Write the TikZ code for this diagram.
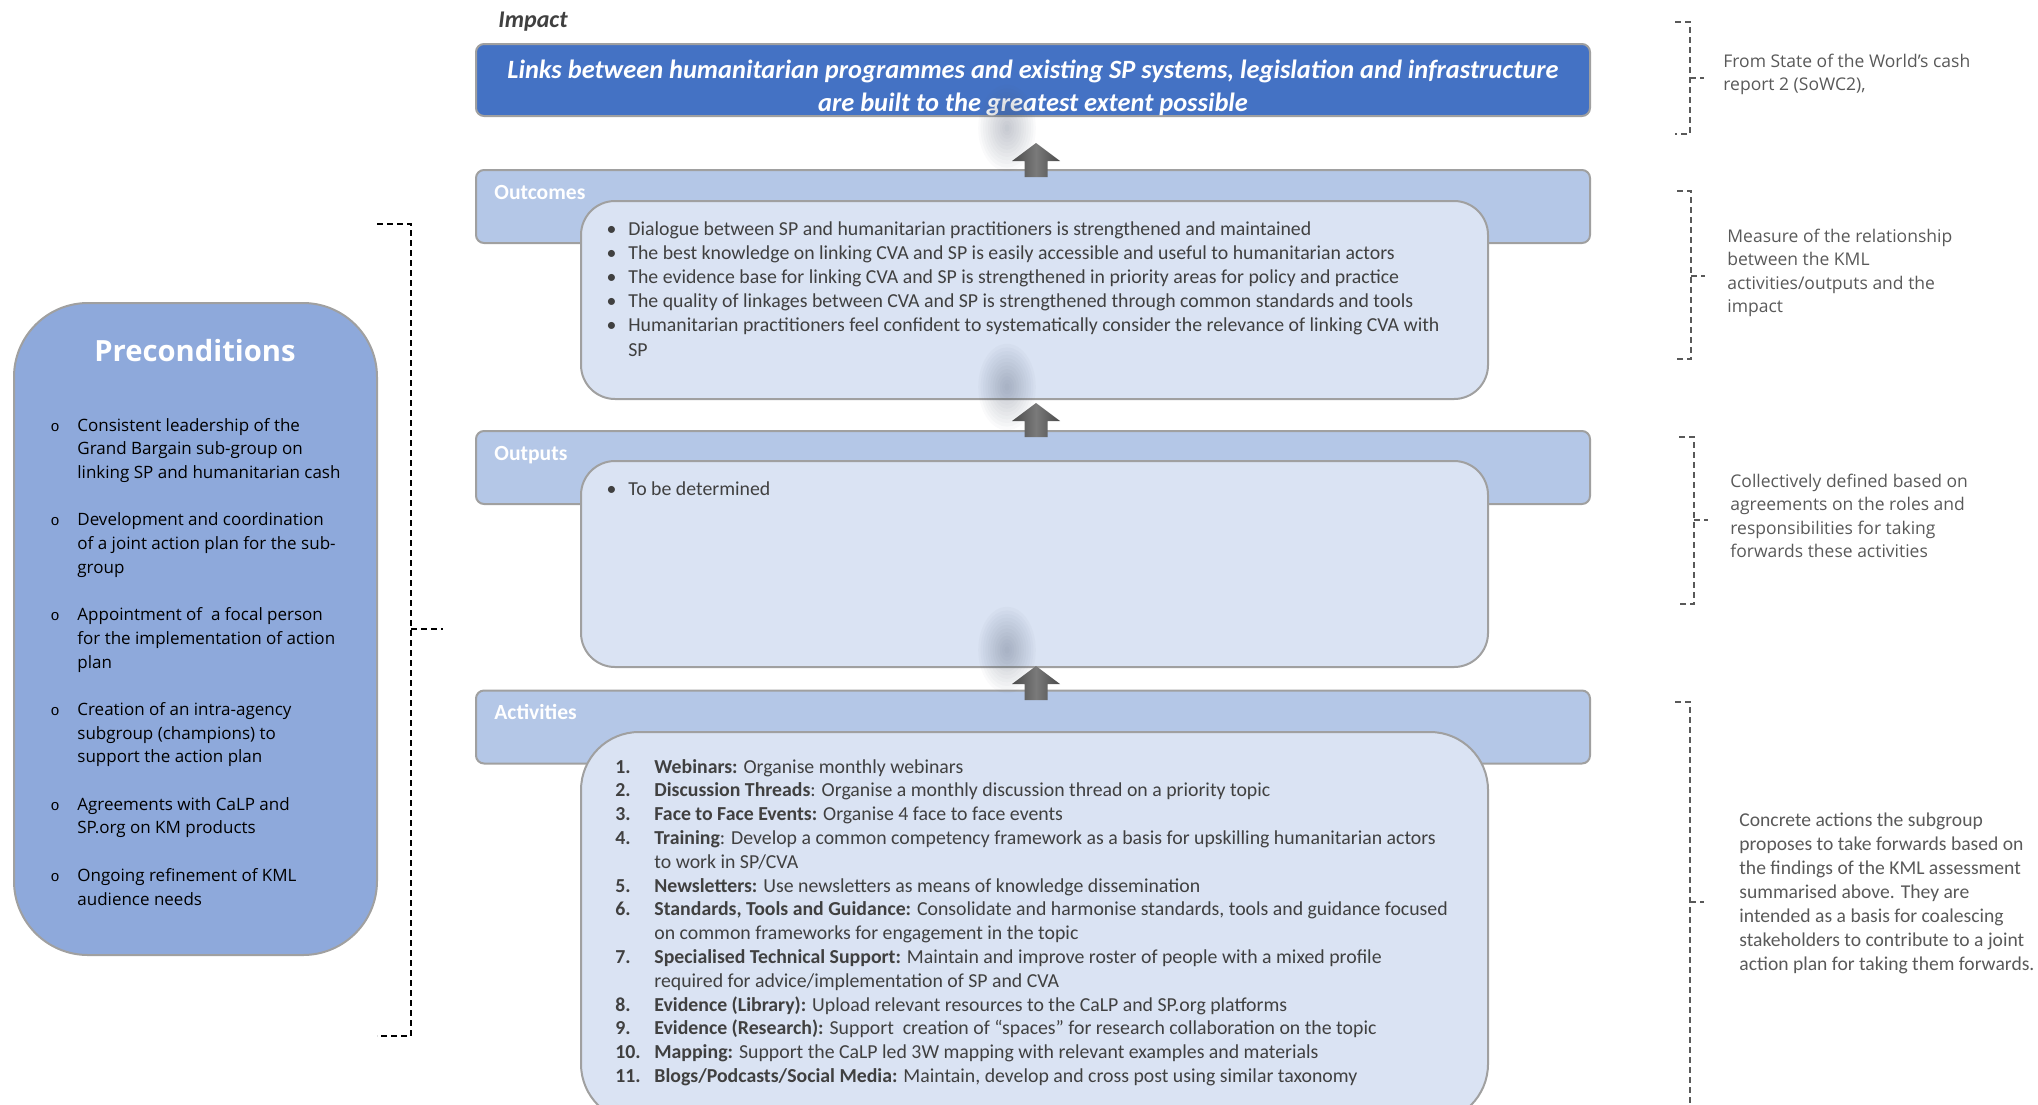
\documentclass[tikz,border=0pt]{standalone}
\usepackage{fontspec}
\setmainfont{Carlito}
\newfontfamily\osans{Open Sans}
\newfontfamily\mono{Liberation Mono}
\definecolor{impactblue}{HTML}{4472C4}
\definecolor{hdrblue}{HTML}{B4C7E7}
\definecolor{innerblue}{HTML}{DAE3F3}
\definecolor{precblue}{HTML}{8EA9DB}
\definecolor{bordergray}{HTML}{A0A0A0}
\definecolor{txt}{HTML}{404040}
\definecolor{anngray}{HTML}{595959}
\definecolor{ardark}{HTML}{4A4A4A}
\definecolor{arlight}{HTML}{7A7A7A}
\definecolor{blobcol}{HTML}{505A70}
\newcommand{\bl}[1]{\makebox[0pt][r]{\textbullet\hspace{6pt}}#1}
\newcommand{\nm}[2]{\makebox[0pt][r]{\makebox[19.5pt][l]{\bfseries #1}}#2}
\newcommand{\ob}{\makebox[0pt][r]{\makebox[13.4pt][l]{\mono\fontsize{7.5}{7.5}\selectfont o}}}
\newcommand{\lns}[1]{\begin{tabular}[t]{@{}l@{}}#1\end{tabular}}
\newcommand{\clns}[1]{\begin{tabular}[t]{@{}c@{}}#1\end{tabular}}
\begin{document}
\begin{tikzpicture}[x=0.5pt,y=-0.5pt,
  hdr/.style={draw=bordergray, line width=1pt, fill=hdrblue, rounded corners=4pt, minimum width=557pt, minimum height=36.5pt, inner sep=0pt},
  innerbox/.style={draw=bordergray, line width=1pt, fill=innerblue, minimum width=453.5pt, inner sep=0pt},
  hlabel/.style={anchor=base west, inner sep=0pt, text=white, font=\fontsize{10.8}{12}\selectfont\bfseries},
  body/.style={anchor=base west, inner sep=0pt, text=txt, font=\fontsize{9.9}{12.1}\selectfont},
  ann/.style={anchor=base west, inner sep=0pt, text=anngray, font=\osans\fontsize{8.75}{11.8}\selectfont},
  brk/.style={dashed, dash pattern=on 3pt off 2pt, line width=0.8pt},
  arrowfill/.style={left color=ardark, right color=ardark, middle color=arlight}
]
\useasboundingbox (0,0) rectangle (2038,1104);
\clip (0,0) rectangle (2038,1104);

% ---------- Impact ----------
\node[anchor=base west, inner sep=0pt, text=txt, font=\fontsize{12}{13}\selectfont\bfseries\itshape] (impactlbl) at (498,27) {Impact};
\node[draw=bordergray, line width=1pt, fill=impactblue, rounded corners=4pt, minimum width=557pt, minimum height=36pt, inner sep=0pt] (impact) at (1033,80) {};
\node[inner sep=0pt, anchor=base, text=white, font=\fontsize{13.2}{16.5}\selectfont\bfseries\itshape] (impacttxt) at (1033,78)
  {\clns{Links between humanitarian programmes and existing SP systems, legislation and infrastructure\\are built to the greatest extent possible}};

% ---------- Outcomes ----------
\node[hdr] (outcHdr) at (1033,206.5) {};
\node[hlabel] (outcLbl) at (494,199) {Outcomes};
\node[innerbox, rounded corners=17pt, minimum height=99pt] (outcBox) at (1034.5,300) {};
\node[body] (outcTxt) at (628,235) {\lns{%
\bl{Dialogue between SP and humanitarian practitioners is strengthened and maintained}\\
\bl{The best knowledge on linking CVA and SP is easily accessible and useful to humanitarian actors}\\
\bl{The evidence base for linking CVA and SP is strengthened in priority areas for policy and practice}\\
\bl{The quality of linkages between CVA and SP is strengthened through common standards and tools}\\
\bl{Humanitarian practitioners feel confident to systematically consider the relevance of linking CVA with}\\
SP}};

% ---------- Outputs ----------
\node[hdr] (outpHdr) at (1033,467.5) {};
\node[hlabel] (outpLbl) at (494,460) {Outputs};
\node[innerbox, rounded corners=17pt, minimum height=103pt] (outpBox) at (1034.5,564) {};
\node[body] (outpTxt) at (628,495) {\bl{To be determined}};

% ---------- Activities ----------
\node[hdr] (actHdr) at (1033,727) {};
\node[hlabel] (actLbl) at (494,719) {Activities};
\node[innerbox, rounded corners=29pt, minimum height=195pt] (actBox) at (1034.5,927) {};
\node[body, font=\fontsize{9.9}{11.9}\selectfont] (actTxt) at (654,773) {\lns{%
\nm{1.}{\textbf{Webinars:} Organise monthly webinars}\\
\nm{2.}{\textbf{Discussion Threads}: Organise a monthly discussion thread on a priority topic}\\
\nm{3.}{\textbf{Face to Face Events:} Organise 4 face to face events}\\
\nm{4.}{\textbf{Training}: Develop a common competency framework as a basis for upskilling humanitarian actors}\\
to work in SP/CVA\\
\nm{5.}{\textbf{Newsletters:} Use newsletters as means of knowledge dissemination}\\
\nm{6.}{\textbf{Standards, Tools and Guidance:} Consolidate and harmonise standards, tools and guidance focused}\\
on common frameworks for engagement in the topic\\
\nm{7.}{\textbf{Specialised Technical Support:} Maintain and improve roster of people with a mixed profile}\\
required for advice/implementation of SP and CVA\\
\nm{8.}{\textbf{Evidence (Library):} Upload relevant resources to the CaLP and SP.org platforms}\\
\nm{9.}{\textbf{Evidence (Research):} Support \ creation of “spaces” for research collaboration on the topic}\\
\nm{10.}{\textbf{Mapping:} Support the CaLP led 3W mapping with relevant examples and materials}\\
\nm{11.}{\textbf{Blogs/Podcasts/Social Media:} Maintain, develop and cross post using similar taxonomy}}};

% ---------- blurred shadows and block arrows ----------
\foreach \bx/\by in {1007/128, 1007/387, 1007/650}{
  \foreach \i in {1,...,12}{
    \fill[blobcol, opacity=0.03] (\bx,\by) ellipse [x radius=\i*1.2pt, y radius=\i*1.8pt];
  }
}
\coordinate (tipA) at (1036,143);
\coordinate (tipB) at (1036,403);
\coordinate (tipC) at (1036,666);
\foreach \t in {tipA,tipB,tipC}{
  \shade[arrowfill] (\t) -- ++(24,18) -- ++(-12.5,0) -- ++(0,16) -- ++(-23,0) -- ++(0,-16) -- ++(-12.5,0) -- cycle;
}

% ---------- Preconditions ----------
\node[draw=bordergray, line width=1pt, fill=precblue, rounded corners=37pt, minimum width=181.5pt, minimum height=326pt, inner sep=0pt] (prec) at (195.5,629) {};
\node[anchor=base, inner sep=0pt, text=white, font=\osans\fontsize{14.6}{16}\selectfont\bfseries] (precT) at (195,361) {Preconditions};
\node[anchor=base west, inner sep=0pt, text=black, font=\osans\fontsize{8.5}{11.85}\selectfont] (precTxt) at (77,431) {\lns{%
\ob Consistent leadership of the\\
Grand Bargain sub-group on\\
linking SP and humanitarian cash\\[11.85pt]
\ob Development and coordination\\
of a joint action plan for the sub-\\
group\\[11.85pt]
\ob Appointment of \ a focal person\\
for the implementation of action\\
plan\\[11.85pt]
\ob Creation of an intra-agency\\
subgroup (champions) to\\
support the action plan\\[11.85pt]
\ob Agreements with CaLP and\\
SP.org on KM products\\[11.85pt]
\ob Ongoing refinement of KML\\
audience needs}};

% ---------- brackets ----------
\draw[brk, black] (377,224) -- (411,224) -- (411,1036) -- (377,1036);
\draw[brk, black] (411,629) -- (443,629);

\draw[brk, anngray] (1675,22) -- (1690,22) -- (1690,134) -- (1675,134);
\draw[brk, anngray] (1690,78) -- (1704,78);
\draw[brk, anngray] (1677,191) -- (1691,191) -- (1691,359) -- (1677,359);
\draw[brk, anngray] (1691,276) -- (1705,276);
\draw[brk, anngray] (1679,437) -- (1694,437) -- (1694,604) -- (1679,604);
\draw[brk, anngray] (1694,520) -- (1708,520);
\draw[brk, anngray] (1675,702) -- (1690,702) -- (1690,1110);
\draw[brk, anngray] (1690,902) -- (1704,902);

% ---------- annotations ----------
\node[ann] (ann1) at (1723,67) {\lns{From State of the World’s cash\\report 2 (SoWC2),}};
\node[ann] (ann2) at (1727,242) {\lns{Measure of the relationship\\between the KML\\activities/outputs and the\\impact}};
\node[ann] (ann3) at (1730,487) {\lns{Collectively defined based on\\agreements on the roles and\\responsibilities for taking\\forwards these activities}};
\node[ann, font=\fontsize{9.8}{12}\selectfont] (ann4) at (1739,826) {\lns{Concrete actions the subgroup\\proposes to take forwards based on\\the findings of the KML assessment\\summarised above. They are\\intended as a basis for coalescing\\stakeholders to contribute to a joint\\action plan for taking them forwards.}};
\end{tikzpicture}
\end{document}
